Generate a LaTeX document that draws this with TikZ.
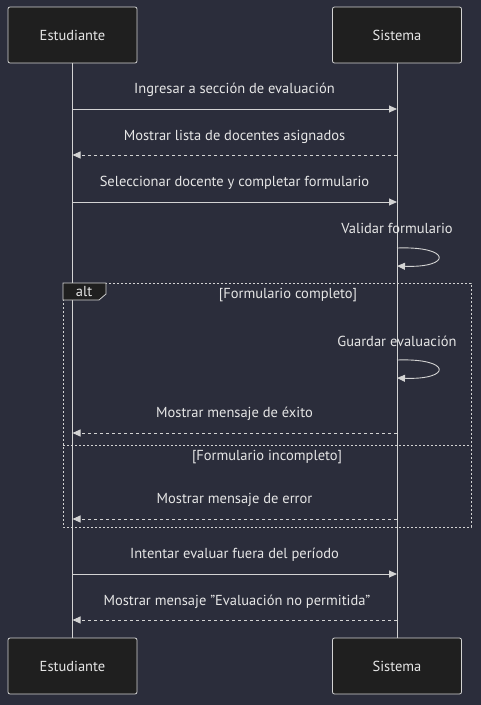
\documentclass[tikz,border=0pt]{standalone}
\usepackage{fontspec}
\setmainfont{PT Sans}
\usetikzlibrary{arrows.meta}
\definecolor{bg}{HTML}{2B2D3B}
\definecolor{boxfill}{HTML}{1F1F1F}
\definecolor{ln}{HTML}{D3D3D3}
\definecolor{tx}{HTML}{E6E6E6}
\tikzset{
  actor/.style={draw=ln, fill=boxfill, rounded corners=2pt, line width=0.8pt, minimum width=129pt, minimum height=56pt, text=tx, font=\fontsize{14.5}{16}\selectfont, inner sep=0pt},
  life/.style={draw=ln, line width=0.9pt},
  msg/.style={draw=ln, line width=0.9pt, -{Triangle[length=8pt,width=7pt]}},
  reply/.style={msg, dash pattern=on 3pt off 3pt},
  lbl/.style={text=tx, font=\fontsize{14.5}{16}\selectfont, inner sep=0pt, yshift=-1.5pt},
  frame/.style={draw=ln, line width=1pt, dash pattern=on 2pt off 2pt},
}
\begin{document}
\begin{tikzpicture}[x=1pt,y=-1pt]
\fill[bg] (0,0) rectangle (481,705);
\useasboundingbox (0,0) rectangle (481,705);
% actors
\node[actor] (eT) at (72.5,35) {Estudiante};
\node[actor] (sT) at (397,35) {Sistema};
\node[actor] (eB) at (72.5,666) {Estudiante};
\node[actor] (sB) at (397,666) {Sistema};
\draw[life] (eT.south) -- (eB.north);
\draw[life] (sT.south) -- (sB.north);
% message coordinates
\coordinate (e1) at (72.5,109); \coordinate (s1) at (397,109);
\coordinate (e2) at (72.5,155); \coordinate (s2) at (397,155);
\coordinate (e3) at (72.5,202); \coordinate (s3) at (397,202);
\coordinate (l1a) at (397,248); \coordinate (l1b) at (397,266);
\coordinate (l2a) at (397,360); \coordinate (l2b) at (397,378);
\coordinate (e7) at (72.5,433); \coordinate (s7) at (397,433);
\coordinate (e9) at (72.5,519); \coordinate (s9) at (397,519);
\coordinate (e10) at (72.5,574); \coordinate (s10) at (397,574);
\coordinate (e11) at (72.5,620); \coordinate (s11) at (397,620);
% alt frame
\draw[frame] (63,283) rectangle (471,527);
\draw[frame] (63,445) -- (471,445);
\path[draw=ln, fill=boxfill, line width=0.8pt] (63,283) -- (106,283) -- (106,294) -- (99,300) -- (63,300) -- cycle;
\node[lbl, yshift=1.5pt] (altl) at (84,292) {alt};
\node[lbl] (c1) at (288,294) {[Formulario completo]};
\node[lbl] (c2) at (267,456) {[Formulario incompleto]};
% messages
\draw[msg] (e1) -- (s1);
\node[lbl] (m1) at (234.5,88) {Ingresar a sección de evaluación};
\draw[reply] (s2) -- (e2);
\node[lbl] (m2) at (234.5,135) {Mostrar lista de docentes asignados};
\draw[msg] (e3) -- (s3);
\node[lbl] (m3) at (234.5,181) {Seleccionar docente y completar formulario};
\node[lbl] (m4) at (397,227) {Validar formulario};
\draw[msg] (l1a) .. controls (452,246) and (452,268) .. (l1b);
\node[lbl] (m5) at (397,340) {Guardar evaluación};
\draw[msg] (l2a) .. controls (452,358) and (452,380) .. (l2b);
\draw[reply] (s7) -- (e7);
\node[lbl] (m6) at (234.5,412) {Mostrar mensaje de éxito};
\draw[reply] (s9) -- (e9);
\node[lbl] (m7) at (234.5,498) {Mostrar mensaje de error};
\draw[msg] (e10) -- (s10);
\node[lbl] (m8) at (234.5,553) {Intentar evaluar fuera del período};
\draw[reply] (s11) -- (e11);
\node[lbl] (m9) at (237,600) {Mostrar mensaje \symbol{34}Evaluación no permitida\symbol{34}};
\end{tikzpicture}
\end{document}
